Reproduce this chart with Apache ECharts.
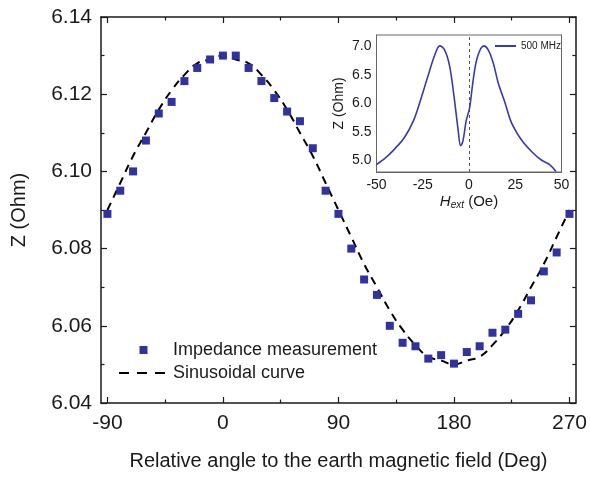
<!DOCTYPE html>
<html>
<head>
<meta charset="utf-8">
<script src="https://cdn.jsdelivr.net/npm/echarts@6/dist/echarts.min.js"></script>
<style>
  html, body { margin: 0; padding: 0; background: #fff; }
  #chart { width: 590px; height: 477px; }
</style>
</head>
<body>
<div id="chart"></div>
<script>
// main plot: angle (deg) vs impedance (Ohm)
var angles = [-90, -80, -70, -60, -50, -40, -30, -20, -10, 0, 10, 20, 30, 40, 50, 60, 70, 80, 90,
  100, 110, 120, 130, 140, 150, 160, 170, 180, 190, 200, 210, 220, 230, 240, 250, 260, 270];
var measured = [6.089, 6.095, 6.100, 6.108, 6.115, 6.118, 6.1234, 6.1268, 6.129, 6.130, 6.130, 6.1268,
  6.1234, 6.119, 6.1155, 6.113, 6.106, 6.095, 6.089, 6.080, 6.072, 6.068, 6.060, 6.0556, 6.0547,
  6.0515, 6.0524, 6.0502, 6.0532, 6.0547, 6.0582, 6.059, 6.0631, 6.0666, 6.0741, 6.079, 6.089];
var sinCurve = [6.090, 6.097, 6.104, 6.110, 6.116, 6.121, 6.125, 6.128, 6.129, 6.130, 6.129, 6.128,
  6.125, 6.121, 6.116, 6.110, 6.104, 6.097, 6.090, 6.083, 6.076, 6.070, 6.064, 6.059, 6.055, 6.052,
  6.051, 6.050, 6.051, 6.052, 6.055, 6.059, 6.064, 6.070, 6.076, 6.083, 6.090];
var xMajor = [-90, 0, 90, 180, 270];
var xMinor = [-45, 45, 135, 225];

// inset: Z vs H_ext at 500 MHz
var hext = [-50, -45, -40, -35, -30, -26, -22, -18.5, -15.8, -13.2, -10.5, -8, -6, -4.5, -3.3, -1.5,
  0.3, 2.3, 4.6, 8, 10.4, 13.1, 15.8, 19.5, 23, 28.4, 33.8, 39.1, 43.6, 47];
var zInset = [4.93, 5.05, 5.21, 5.40, 5.70, 6.08, 6.50, 6.85, 7.01, 6.94, 6.66, 6.10, 5.57, 5.26, 5.34,
  5.70, 5.92, 6.42, 6.82, 7.01, 6.94, 6.71, 6.36, 6.01, 5.66, 5.36, 5.16, 5.01, 4.93, 4.81];
var insetYMajor = [5.0, 5.5, 6.0, 6.5, 7.0];
var insetYMinor = [5.25, 5.75, 6.25, 6.75];

var font = 'Liberation Sans, Arial, sans-serif';
var ink = '#1a1a1a';
var blue = '#2f33a0';
var insetBlue = '#3a3aae';

function zip(a, b) {
  var out = [];
  for (var i = 0; i < a.length; i++) out.push([a[i], b[i]]);
  return out;
}

var chart = echarts.init(document.getElementById('chart'));

var mainX = function (pos, ticks, len, withLabels, withLine) {
  return {
    type: 'value', gridIndex: 0, position: pos, min: -95, max: 275,
    axisLine: {show: withLine, onZero: false, lineStyle: {color: ink, width: 1.5}},
    axisTick: {show: true, inside: true, length: len, customValues: ticks, lineStyle: {color: ink, width: 1.2}},
    axisLabel: {show: withLabels, customValues: ticks, margin: 10, color: ink, fontSize: 21, fontFamily: font},
    splitLine: {show: false}
  };
};
var mainY = function (pos, withLabels) {
  return {
    type: 'value', gridIndex: 0, position: pos, min: 6.04, max: 6.14, interval: 0.02,
    axisLine: {show: true, onZero: false, lineStyle: {color: ink, width: 1.5}},
    axisTick: {show: true, inside: true, length: 6, lineStyle: {color: ink, width: 1.2}},
    minorTick: {show: true, splitNumber: 2, length: 3.5, lineStyle: {color: ink, width: 1.2}},
    axisLabel: {show: withLabels, margin: 9, color: ink, fontSize: 21, fontFamily: font,
      formatter: function (v) { return v.toFixed(2); }},
    splitLine: {show: false}
  };
};
var insetX = function (pos, withLabels) {
  return {
    type: 'value', gridIndex: 1, position: pos, min: -50, max: 50, interval: 25,
    axisLine: {show: true, onZero: false, lineStyle: {color: '#666', width: 1}},
    axisTick: {show: true, inside: true, length: 4, lineStyle: {color: '#666'}},
    minorTick: {show: true, splitNumber: 2, length: 2.5, lineStyle: {color: '#666'}},
    axisLabel: {show: withLabels, margin: 6, color: ink, fontSize: 14, fontFamily: font},
    splitLine: {show: false}
  };
};
var insetY = function (pos, ticks, len, withLabels, withLine) {
  return {
    type: 'value', gridIndex: 1, position: pos, min: 4.8, max: 7.2,
    axisLine: {show: withLine, onZero: false, lineStyle: {color: '#666', width: 1}},
    axisTick: {show: true, inside: true, length: len, customValues: ticks, lineStyle: {color: '#666'}},
    axisLabel: {show: withLabels, customValues: ticks, margin: 5, color: ink, fontSize: 14, fontFamily: font,
      formatter: function (v) { return v.toFixed(1); }},
    splitLine: {show: false}
  };
};

var xAxes = [
  mainX('bottom', xMajor, 6, true, true),
  mainX('bottom', xMinor, 3.5, false, false),
  mainX('top', xMajor, 6, false, true),
  mainX('top', xMinor, 3.5, false, false),
  insetX('bottom', true),
  insetX('top', false)
];
xAxes[0].name = 'Relative angle to the earth magnetic field (Deg)';
xAxes[0].nameLocation = 'middle';
xAxes[0].nameGap = 48;
xAxes[0].nameTextStyle = {color: ink, fontSize: 20, fontFamily: font};
xAxes[4].name = '{i|H}{s|ext} (Oe)';
xAxes[4].nameLocation = 'middle';
xAxes[4].nameGap = 21;
xAxes[4].nameTextStyle = {color: ink, fontSize: 15, fontFamily: font,
  rich: {i: {fontStyle: 'italic', fontSize: 15, fontFamily: font, color: ink},
         s: {fontStyle: 'italic', fontSize: 10, fontFamily: font, color: ink, padding: [7, 0, 0, 0]}}};

var yAxes = [
  mainY('left', true),
  mainY('right', false),
  insetY('left', insetYMajor, 4, true, true),
  insetY('left', insetYMinor, 2.5, false, false),
  insetY('right', insetYMajor, 4, false, true),
  insetY('right', insetYMinor, 2.5, false, false)
];
yAxes[0].name = 'Z (Ohm)';
yAxes[0].nameLocation = 'middle';
yAxes[0].nameGap = 72;
yAxes[0].nameTextStyle = {color: ink, fontSize: 20, fontFamily: font};
yAxes[2].name = 'Z (Ohm)';
yAxes[2].nameLocation = 'middle';
yAxes[2].nameGap = 30;
yAxes[2].nameTextStyle = {color: ink, fontSize: 14, fontFamily: font};

var option = {
  backgroundColor: '#fff',
  animation: false,
  grid: [
    {left: 101, right: 13, top: 17, bottom: 74},
    {left: 376.5, width: 185, top: 35, height: 137, show: true, backgroundColor: '#fff',
     borderColor: '#666', borderWidth: 1, z: 5}
  ],
  legend: [{
    orient: 'vertical', left: 118, top: 341, padding: 0, itemWidth: 49, itemHeight: 8, itemGap: 5,
    textStyle: {color: ink, fontSize: 18, fontFamily: font},
    data: [
      {name: 'Impedance measurement', icon: 'path://M0 0H10V10H0Z'},
      {name: 'Sinusoidal curve', itemStyle: {opacity: 0}, lineStyle: {type: [10, 8], width: 2}}
    ]
  }, {
    left: 494, top: 41, padding: 0, z: 20, itemWidth: 21, itemHeight: 4,
    textStyle: {color: ink, fontSize: 10, fontFamily: font},
    data: [{name: '500 MHz', itemStyle: {opacity: 0}}]
  }],
  xAxis: xAxes,
  yAxis: yAxes,
  series: [{
    name: 'Sinusoidal curve', type: 'line', xAxisIndex: 0, yAxisIndex: 0,
    data: zip(angles, sinCurve), smooth: true, symbol: 'none',
    lineStyle: {color: '#000', width: 2, type: [8, 6]},
    itemStyle: {color: '#000'}, z: 2
  }, {
    name: 'Impedance measurement', type: 'scatter', xAxisIndex: 0, yAxisIndex: 0,
    data: zip(angles, measured), symbol: 'rect', symbolSize: 8,
    itemStyle: {color: blue, opacity: 1}, z: 3
  }, {
    name: '500 MHz', type: 'line', xAxisIndex: 4, yAxisIndex: 2,
    data: zip(hext, zInset), smooth: 0.35, symbol: 'none',
    lineStyle: {color: insetBlue, width: 1.6}, itemStyle: {color: insetBlue}, z: 10,
    markLine: {
      silent: true, symbol: 'none', label: {show: false},
      lineStyle: {color: '#555', width: 1, type: [3, 3]},
      data: [{xAxis: 0}]
    }
  }]
};
chart.setOption(option);
</script>
</body>
</html>
